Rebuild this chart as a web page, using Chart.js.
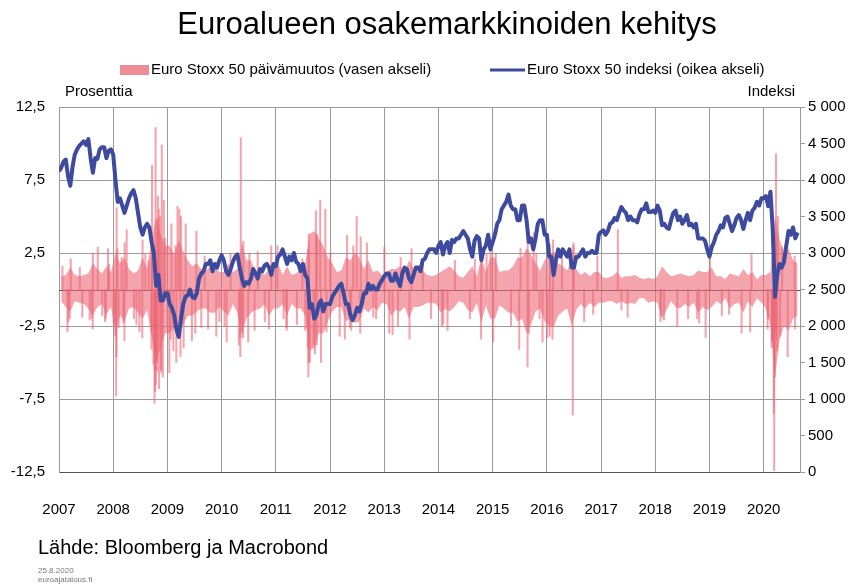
<!DOCTYPE html>
<html>
<head>
<meta charset="utf-8">
<script src="https://cdn.jsdelivr.net/npm/chart.js@4.4.0/dist/chart.umd.min.js"></script>
<style>
  html, body { margin: 0; padding: 0; background: #fff; }
</style>
</head>
<body>
<canvas id="chart" width="854" height="585"></canvas>
<script>
// texts
var titleText = 'Euroalueen osakemarkkinoiden kehitys';
var barLabel = 'Euro Stoxx 50 päivämuutos (vasen akseli)';
var lineLabel = 'Euro Stoxx 50 indeksi (oikea akseli)';
var leftTitle = 'Prosenttia';
var rightTitle = 'Indeksi';
var sourceText = 'Lähde: Bloomberg ja Macrobond';
var dateText = '25.8.2020';
var siteText = 'euroajatalous.fi';

// axes
var yearLabels = [2007, 2008, 2009, 2010, 2011, 2012, 2013, 2014, 2015, 2016, 2017, 2018, 2019, 2020];
var leftTicks = [-12.5, -7.5, -2.5, 2.5, 7.5, 12.5];
var rightTicks = [0, 500, 1000, 1500, 2000, 2500, 3000, 3500, 4000, 4500, 5000];

// Euro Stoxx 50 index, read twice a month (1st and 15th), from Jan 2007
var indexValues = [
  4120, 4170, 4250, 4280, 4050, 3920, 4180, 4350, 4420, 4470, 4500, 4530, 4480, 4560, 4300, 4100, 4300, 4290, 4420, 4450, 4450, 4300, 4400, 4420,
  4350, 4000, 3700, 3750, 3650, 3550, 3650, 3750, 3820, 3860, 3750, 3550, 3350, 3250, 3350, 3400, 3350, 3150, 3000, 2550, 2700, 2350, 2350, 2450,
  2450, 2300, 2250, 2150, 1950, 1850, 2100, 2300, 2400, 2420, 2500, 2400, 2380, 2450, 2650, 2720, 2750, 2850, 2850, 2900, 2750, 2850, 2800, 2900,
  2970, 2900, 2750, 2700, 2780, 2880, 2950, 2980, 2800, 2650, 2550, 2600, 2580, 2650, 2780, 2720, 2650, 2780, 2750, 2830, 2850, 2800, 2700, 2850,
  2820, 2950, 2980, 3050, 2950, 2850, 2950, 2900, 3000, 2880, 2850, 2750, 2850, 2700, 2650, 2250, 2300, 2100, 2150, 2300, 2350, 2200, 2300, 2300,
  2300, 2400, 2450, 2500, 2550, 2580, 2450, 2300, 2300, 2150, 2080, 2150, 2250, 2200, 2300, 2450, 2450, 2580, 2500, 2550, 2500, 2500, 2580, 2630,
  2680, 2720, 2720, 2620, 2620, 2720, 2620, 2550, 2720, 2800, 2780, 2650, 2600, 2700, 2800, 2800, 2750, 2900, 2920, 3000, 3050, 3050, 3050, 3000,
  3100, 3150, 2980, 3100, 3150, 3000, 3180, 3150, 3200, 3200, 3250, 3300, 3250, 3200, 3050, 2950, 3170, 3230, 3200, 2900, 3050, 3100, 3250, 3050,
  3150, 3250, 3400, 3450, 3600, 3650, 3700, 3800, 3650, 3600, 3600, 3450, 3450, 3650, 3650, 3450, 3150, 3200, 3050, 3200, 3400, 3450, 3450, 3250,
  3250, 2950, 2950, 2700, 2900, 3050, 2950, 3050, 3000, 2950, 3050, 2800, 2800, 2950, 2950, 3000, 3050, 2950, 3000, 3000, 3030, 3000, 3000, 3250,
  3290, 3310, 3250, 3300, 3400, 3420, 3480, 3450, 3550, 3630, 3580, 3550, 3450, 3500, 3450, 3450, 3420, 3530, 3600, 3600, 3680, 3560, 3560, 3580,
  3550, 3650, 3580, 3380, 3400, 3350, 3330, 3450, 3550, 3580, 3450, 3500, 3400, 3450, 3520, 3380, 3400, 3350, 3400, 3200, 3200, 3200, 3170, 3050,
  2950, 3080, 3150, 3250, 3300, 3380, 3350, 3480, 3500, 3400, 3300, 3380, 3480, 3520, 3450, 3330, 3450, 3550, 3450, 3580, 3620, 3700, 3650, 3750,
  3750, 3780, 3640, 3840, 3330, 2400, 2700, 2850, 2800, 2880, 3100, 3300, 3250, 3350, 3200, 3280
];

// daily change, usual monthly range (low / high), from Jan 2007
var changeLow = [
  -0.8, -1.2, -1.5, -0.8, -0.9, -1.0, -1.3, -1.8, -1.2, -1.0, -1.7, -1.2,
  -3.0, -1.8, -2.2, -1.3, -1.2, -1.6, -2.0, -1.4, -3.2, -5.0, -4.0, -3.0,
  -3.0, -2.6, -3.0, -2.4, -1.8, -1.8, -1.5, -1.3, -1.3, -1.6, -1.6, -1.2,
  -1.5, -1.8, -1.0, -1.6, -3.0, -2.0, -1.6, -1.4, -1.3, -1.0, -1.8, -1.3,
  -1.3, -1.0, -1.8, -1.0, -1.3, -1.3, -1.8, -4.2, -4.0, -3.0, -3.0, -2.2,
  -1.5, -1.2, -1.2, -2.2, -2.0, -2.3, -2.2, -1.3, -1.6, -1.2, -1.4, -0.9,
  -1.0, -1.8, -1.4, -1.5, -1.2, -2.0, -1.2, -1.2, -1.1, -0.9, -0.9, -1.0,
  -1.6, -1.3, -1.5, -1.2, -0.8, -0.9, -1.4, -1.6, -0.9, -2.3, -1.1, -2.0,
  -2.0, -1.1, -1.3, -1.6, -1.6, -2.2, -2.0, -3.0, -2.4, -1.5, -1.3, -2.2,
  -2.5, -2.6, -1.8, -1.5, -1.3, -2.5, -1.4, -1.0, -1.3, -0.9, -1.2, -0.9,
  -0.9, -0.8, -0.8, -1.0, -0.8, -1.0, -0.9, -1.0, -0.6, -0.6, -0.9, -0.8,
  -0.9, -2.0, -1.4, -0.8, -1.2, -1.3, -1.0, -1.2, -0.9, -1.6, -1.2, -1.4,
  -1.2, -0.8, -1.0, -0.6, -1.3, -1.0, -0.9, -1.6, -0.8, -1.2, -0.6, -0.9,
  -1.3, -2.5, -6.0, -3.5, -2.5, -2.8, -2.0, -1.8
];
var changeHigh = [
  0.9, 1.0, 1.5, 1.0, 0.9, 1.0, 1.1, 1.8, 1.4, 1.1, 1.6, 1.2,
  2.5, 1.8, 2.2, 1.4, 1.1, 1.3, 2.2, 1.4, 3.5, 5.0, 3.8, 3.0,
  3.0, 2.4, 3.4, 2.6, 2.0, 1.6, 1.8, 1.4, 1.3, 1.6, 1.6, 1.2,
  1.2, 1.8, 1.2, 1.4, 3.2, 2.0, 2.0, 1.2, 1.3, 1.0, 1.4, 1.5,
  1.8, 1.0, 1.6, 1.0, 1.1, 1.4, 1.8, 3.8, 4.0, 3.5, 3.0, 2.2,
  1.8, 1.2, 1.3, 2.2, 2.0, 2.5, 2.2, 1.4, 2.0, 1.2, 1.3, 1.0,
  1.2, 1.4, 1.4, 1.6, 1.2, 2.0, 1.4, 1.2, 1.3, 1.0, 0.9, 1.0,
  1.2, 1.4, 1.6, 1.3, 0.9, 0.8, 1.2, 1.6, 0.9, 2.2, 1.2, 2.2,
  2.2, 1.2, 1.3, 1.3, 1.6, 2.2, 2.2, 2.8, 2.4, 1.8, 1.3, 2.0,
  2.4, 2.6, 1.8, 1.6, 1.3, 2.2, 1.4, 1.0, 1.2, 0.9, 1.2, 1.2,
  0.8, 0.8, 0.9, 1.2, 0.8, 0.9, 0.9, 1.0, 0.8, 0.7, 0.8, 0.7,
  0.9, 1.6, 1.2, 0.9, 1.0, 1.1, 1.0, 0.9, 1.0, 1.3, 1.2, 1.2,
  1.5, 0.9, 0.9, 0.7, 1.1, 1.0, 0.9, 1.4, 1.0, 1.2, 0.7, 1.0,
  1.0, 1.2, 5.0, 3.5, 2.5, 2.8, 2.0, 1.8
];

// single-day moves outside the usual range, %
var spikeDates = [
  '2007-01-24', '2007-02-27', '2007-03-05', '2007-03-14', '2007-03-21', '2007-05-21', '2007-06-07', '2007-07-26', '2007-08-09', '2007-08-16', '2007-08-17', '2007-09-19', '2007-10-19', '2007-11-07', '2007-11-12', '2007-11-27', '2007-12-04',
  '2008-01-04', '2008-01-15', '2008-01-21', '2008-01-23', '2008-01-24', '2008-01-29', '2008-02-07', '2008-02-27', '2008-03-10', '2008-03-17', '2008-03-18', '2008-04-01', '2008-05-20', '2008-06-06', '2008-06-26', '2008-07-15', '2008-07-17', '2008-08-05', '2008-08-28',
  '2008-09-15', '2008-09-17', '2008-09-18', '2008-09-19', '2008-09-29', '2008-10-06', '2008-10-08', '2008-10-10', '2008-10-13', '2008-10-15', '2008-10-16', '2008-10-22', '2008-10-24', '2008-10-28', '2008-10-29',
  '2008-11-04', '2008-11-06', '2008-11-13', '2008-11-19', '2008-11-20', '2008-11-24', '2008-12-01', '2008-12-08', '2008-12-16',
  '2009-01-14', '2009-01-23', '2009-01-28', '2009-02-10', '2009-02-24', '2009-03-02', '2009-03-10', '2009-03-23', '2009-03-30', '2009-04-02', '2009-04-20', '2009-05-04', '2009-06-15', '2009-07-08', '2009-07-15', '2009-08-17', '2009-09-09', '2009-10-02', '2009-11-26', '2009-12-17',
  '2010-01-21', '2010-02-04', '2010-03-02', '2010-04-27', '2010-05-06', '2010-05-07', '2010-05-10', '2010-05-20', '2010-05-25', '2010-05-27', '2010-06-29', '2010-07-07', '2010-08-11', '2010-09-01', '2010-10-19', '2010-11-16', '2010-12-01',
  '2011-01-12', '2011-02-22', '2011-03-14', '2011-03-15', '2011-05-23', '2011-06-29', '2011-07-18', '2011-08-02', '2011-08-04', '2011-08-08', '2011-08-09', '2011-08-10', '2011-08-11', '2011-08-18', '2011-09-12', '2011-09-22', '2011-09-28',
  '2011-10-04', '2011-10-05', '2011-10-27', '2011-11-01', '2011-11-30', '2011-12-08',
  '2012-01-03', '2012-03-06', '2012-04-10', '2012-04-25', '2012-05-14', '2012-05-23', '2012-06-06', '2012-06-29', '2012-07-23', '2012-07-26', '2012-09-06', '2012-10-19', '2012-11-07',
  '2013-01-02', '2013-02-04', '2013-02-26', '2013-04-04', '2013-04-22', '2013-06-20', '2013-07-04', '2013-09-18', '2013-11-12',
  '2014-01-24', '2014-02-03', '2014-03-03', '2014-04-22', '2014-08-01', '2014-09-03', '2014-10-15', '2014-10-17', '2014-11-21', '2014-12-18',
  '2015-01-05', '2015-01-22', '2015-05-05', '2015-06-29', '2015-07-08', '2015-08-24', '2015-08-25', '2015-09-01', '2015-10-05', '2015-10-22', '2015-11-13', '2015-12-03',
  '2016-01-04', '2016-01-20', '2016-01-22', '2016-02-08', '2016-02-12', '2016-04-12', '2016-06-24', '2016-06-28', '2016-06-29', '2016-09-09', '2016-11-09', '2016-12-07',
  '2017-04-24', '2017-05-18', '2017-06-29',
  '2018-02-05', '2018-02-08', '2018-03-01', '2018-05-29', '2018-08-10', '2018-10-10', '2018-10-24', '2018-12-06',
  '2019-01-04', '2019-03-25', '2019-05-13', '2019-08-05', '2019-10-02', '2019-10-11',
  '2020-01-27', '2020-01-31', '2020-02-24', '2020-02-27', '2020-02-28', '2020-03-06', '2020-03-09', '2020-03-12', '2020-03-13', '2020-03-16', '2020-03-17', '2020-03-18', '2020-03-19', '2020-03-20',
  '2020-03-24', '2020-03-26', '2020-03-27', '2020-04-01', '2020-04-06', '2020-04-21', '2020-05-05', '2020-06-11', '2020-07-28', '2020-07-31'
];
var spikeValues = [
  1.6, -2.9, -2.2, -2.0, 2.1, 1.5, -1.9, -2.1, -2.0, -2.7, 2.5, 2.9, -1.8, -2.2, -2.0, 2.8, 1.7,
  -2.3, -3.2, -7.3, -4.6, 5.6, 2.8, -2.6, 2.2, -2.3, -3.5, 3.2, 4.1, -2.0, -2.4, -2.9, -3.3, 3.4, 2.4, 2.0,
  -4.1, -2.8, 3.0, 8.5, -5.1, -7.8, -5.5, -7.0, 11.1, -6.5, -4.2, -5.0, -5.6, 6.4, 4.8,
  5.5, -6.8, 5.0, -5.5, -5.7, 9.9, -6.0, 6.1, 3.5,
  -5.7, -3.4, 4.5, -4.2, 3.0, -5.0, 5.7, 5.5, -4.6, 5.0, -4.0, 4.5, -3.5, -3.0, 4.0, -2.6, 2.3, -2.7, -3.2, -2.2,
  -2.5, -3.6, 2.5, -3.8, -3.3, -4.6, 10.4, -3.0, -3.3, 3.3, -3.6, 2.5, -2.8, 2.6, -2.2, -2.7, 3.0,
  3.0, -2.0, -2.6, -2.8, -2.4, 2.1, -2.8, -2.6, -4.0, -6.0, 2.7, -5.0, 3.8, -5.0, -3.8, -4.4, 5.4,
  -3.8, 3.8, 6.1, -5.0, 5.5, -2.9,
  2.5, -3.2, -3.4, 3.7, -2.6, -2.8, 3.0, 5.0, -3.0, 3.6, 3.2, -1.9, -2.0,
  2.9, -3.0, -3.1, -2.5, 2.2, -3.4, 2.8, 1.9, -2.0,
  -2.5, -2.4, -2.8, 2.0, -2.0, 2.1, -3.4, 2.6, 2.4, 3.1,
  -3.6, 2.5, -2.5, -4.1, 2.8, -5.3, 4.1, -3.0, 3.9, 2.5, -2.0, -3.6,
  -3.3, -3.2, 3.1, -3.4, 3.4, 2.5, -8.6, 3.0, 3.2, -2.2, -1.7, 2.3,
  4.1, -1.4, -1.9,
  -2.2, -1.8, -2.1, -2.5, -2.0, -2.0, -2.3, -3.3,
  2.2, -1.8, -1.7, -3.0, -2.9, 2.5,
  -2.7, -2.0, -4.0, -3.5, -3.6, -3.4, -8.5, -12.4, 2.0, -6.0, 2.8, -2.8, 2.9, 3.9,
  9.3, 2.7, -3.4, -4.2, 5.0, -3.2, 2.9, -4.6, 2.3, -2.7
];

// date string -> decimal year
var toYear = function(s) {
  var p = s.split('-');
  var y = +p[0];
  var start = Date.UTC(y, 0, 1);
  var len = Date.UTC(y + 1, 0, 1) - start;
  return y + (Date.UTC(y, +p[1] - 1, +p[2]) - start) / len;
};

var fontName = '"Liberation Sans", Arial, Helvetica, sans-serif';
var pinkBand = 'rgba(236, 104, 118, 0.6)';
var pinkSpike = 'rgba(236, 104, 118, 0.6)';
var blue = '#3d4a9e';
var gridGrey = '#9a9a9a';

var indexPoints = indexValues.map(function(v, i) {
  return { x: yearLabels[0] + i / 24, y: v };
});
var monthX = function(i) { return yearLabels[0] + (i + 0.5) / 12; };
var highPoints = changeHigh.map(function(v, i) { return { x: monthX(i), y: v }; });
var lowPoints = changeLow.map(function(v, i) { return { x: monthX(i), y: v }; });
var spikeBars = spikeDates.map(function(d, i) {
  return { x: toYear(d), y: [0, spikeValues[i]] };
});

// zero line of left axis, drawn under the data
var zeroLine = {
  id: 'zeroLine',
  beforeDatasetsDraw: function(chart) {
    var ctx = chart.ctx;
    var a = chart.chartArea;
    var y = Math.round(chart.scales.y.getPixelForValue(0)) + 0.5;
    ctx.save();
    ctx.strokeStyle = '#555';
    ctx.lineWidth = 1;
    ctx.beginPath();
    ctx.moveTo(a.left, y);
    ctx.lineTo(a.right, y);
    ctx.stroke();
    ctx.restore();
  }
};

// title, legend, axis names and source
var texts = {
  id: 'texts',
  afterDraw: function(chart) {
    var ctx = chart.ctx;
    var a = chart.chartArea;
    ctx.save();
    ctx.fillStyle = '#000';
    ctx.textBaseline = 'middle';

    ctx.textAlign = 'center';
    ctx.font = '31px ' + fontName;
    ctx.fillText(titleText, 447, 25);

    ctx.textAlign = 'left';
    ctx.font = '15px ' + fontName;
    ctx.fillStyle = '#f08c96';
    ctx.fillRect(120, 65, 29, 10);
    ctx.fillStyle = '#000';
    ctx.fillText(barLabel, 151, 70);
    ctx.strokeStyle = blue;
    ctx.lineWidth = 3;
    ctx.beginPath();
    ctx.moveTo(490, 70);
    ctx.lineTo(525, 70);
    ctx.stroke();
    ctx.fillText(lineLabel, 527, 70);

    ctx.fillText(leftTitle, a.left + 6, 92);
    ctx.textAlign = 'right';
    ctx.fillText(rightTitle, a.right - 5, 92);

    ctx.textAlign = 'left';
    ctx.font = '20px ' + fontName;
    ctx.fillText(sourceText, 38, 548);
    ctx.fillStyle = '#777';
    ctx.font = '8px ' + fontName;
    ctx.fillText(dateText, 38, 571);
    ctx.fillText(siteText, 38, 580);
    ctx.restore();
  }
};

var fixTicks = function(list) {
  return function(scale) {
    scale.ticks = list.map(function(v) { return { value: v }; });
  };
};

new Chart(document.getElementById('chart'), {
  type: 'bar',
  data: {
    datasets: [
      {
        type: 'line',
        label: lineLabel,
        data: indexPoints,
        yAxisID: 'y2',
        borderColor: blue,
        borderWidth: 4,
        pointRadius: 0,
        borderJoinStyle: 'round',
        tension: 0,
        order: 0
      },
      {
        type: 'line',
        label: barLabel,
        data: highPoints,
        yAxisID: 'y',
        borderWidth: 0,
        pointRadius: 0,
        tension: 0,
        backgroundColor: pinkBand,
        fill: '+1',
        order: 2
      },
      {
        type: 'line',
        label: barLabel,
        data: lowPoints,
        yAxisID: 'y',
        borderWidth: 0,
        pointRadius: 0,
        tension: 0,
        fill: false,
        order: 3
      },
      {
        label: barLabel,
        data: spikeBars,
        yAxisID: 'y',
        backgroundColor: pinkSpike,
        borderWidth: 0,
        barThickness: 1.4,
        grouped: false,
        order: 1
      }
    ]
  },
  options: {
    responsive: false,
    animation: false,
    layout: { padding: { top: 107, left: 0, right: 0, bottom: 0 } },
    plugins: {
      legend: { display: false },
      title: { display: false },
      tooltip: { enabled: false }
    },
    scales: {
      x: {
        type: 'linear',
        min: 2007,
        max: 2020.67,
        offset: false,
        afterBuildTicks: fixTicks(yearLabels),
        afterFit: function(scale) { scale.height = 113; },
        grid: { color: gridGrey, offset: false, drawTicks: false },
        border: { color: '#555' },
        ticks: {
          padding: 29,
          maxRotation: 0,
          autoSkip: false,
          color: '#000',
          font: { family: fontName, size: 15 },
          callback: function(v) { return String(v); }
        }
      },
      y: {
        position: 'left',
        min: -12.5,
        max: 12.5,
        afterBuildTicks: fixTicks(leftTicks),
        afterFit: function(scale) { scale.width = 59; },
        grid: { color: gridGrey, drawTicks: false },
        border: { color: gridGrey },
        ticks: {
          padding: 14,
          color: '#000',
          font: { family: fontName, size: 15 },
          callback: function(v) { return String(v).replace('.', ','); }
        }
      },
      y2: {
        position: 'right',
        min: 0,
        max: 5000,
        afterBuildTicks: fixTicks(rightTicks),
        afterFit: function(scale) { scale.width = 54; },
        grid: { color: gridGrey, drawOnChartArea: false, drawTicks: true, tickLength: 5 },
        border: { color: gridGrey },
        ticks: {
          padding: 3,
          color: '#000',
          font: { family: fontName, size: 15 },
          callback: function(v) { return v >= 1000 ? String(v).replace(/(\d)(\d{3})$/, '$1 $2') : String(v); }
        }
      }
    }
  },
  plugins: [zeroLine, texts]
});
</script>
</body>
</html>
